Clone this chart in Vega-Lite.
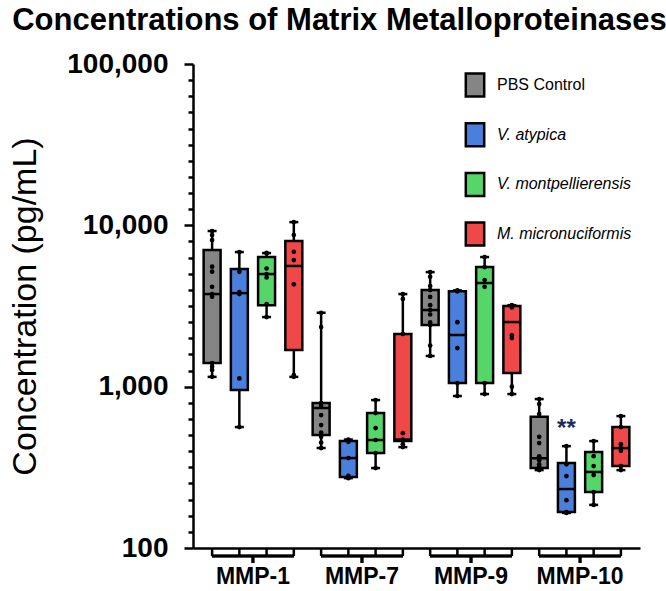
{
  "$schema": "https://vega.github.io/schema/vega-lite/v6.json",
  "autosize": "none",
  "width": 447,
  "height": 484,
  "padding": {"left": 193, "top": 64, "right": 26, "bottom": 43},
  "background": "white",
  "config": {
    "view": {"stroke": null},
    "font": "Liberation Sans"
  },
  "title": {
    "text": "Concentrations of Matrix Metalloproteinases",
    "font": "Liberation Sans",
    "fontSize": 31,
    "fontWeight": "bold",
    "color": "black",
    "anchor": "middle",
    "dx": -77,
    "offset": 13
  },
  "datasets": {
    "stats": [
      {"target": "MMP-1", "group": "PBS Control", "min": 1150, "q1": 1400, "median": 3750, "q3": 7030, "max": 9220},
      {"target": "MMP-1", "group": "V. atypica", "min": 562, "q1": 953, "median": 3800, "q3": 5360, "max": 6830},
      {"target": "MMP-1", "group": "V. montpellierensis", "min": 2700, "q1": 3200, "median": 4990, "q3": 6360, "max": 6730},
      {"target": "MMP-1", "group": "M. micronuciformis", "min": 1150, "q1": 1690, "median": 5600, "q3": 7990, "max": 10470},
      {"target": "MMP-7", "group": "PBS Control", "min": 416, "q1": 501, "median": 737, "q3": 791, "max": 2870},
      {"target": "MMP-7", "group": "V. atypica", "min": 271, "q1": 275, "median": 361, "q3": 460, "max": 470},
      {"target": "MMP-7", "group": "V. montpellierensis", "min": 313, "q1": 388, "median": 467, "q3": 686, "max": 826},
      {"target": "MMP-7", "group": "M. micronuciformis", "min": 422, "q1": 460, "median": 470, "q3": 2120, "max": 3750},
      {"target": "MMP-9", "group": "PBS Control", "min": 1550, "q1": 2410, "median": 2985, "q3": 3970, "max": 5130},
      {"target": "MMP-9", "group": "V. atypica", "min": 875, "q1": 1052, "median": 2090, "q3": 3910, "max": 3950},
      {"target": "MMP-9", "group": "V. montpellierensis", "min": 900, "q1": 1052, "median": 4390, "q3": 5510, "max": 6360},
      {"target": "MMP-9", "group": "M. micronuciformis", "min": 900, "q1": 1214, "median": 2515, "q3": 3160, "max": 3200},
      {"target": "MMP-10", "group": "PBS Control", "min": 304, "q1": 313, "median": 360, "q3": 650, "max": 838},
      {"target": "MMP-10", "group": "V. atypica", "min": 165, "q1": 167, "median": 232, "q3": 336, "max": 428},
      {"target": "MMP-10", "group": "V. montpellierensis", "min": 185, "q1": 222, "median": 296, "q3": 393, "max": 460},
      {"target": "MMP-10", "group": "M. micronuciformis", "min": 304, "q1": 322, "median": 416, "q3": 562, "max": 657}
    ],
    "points": [
      {"target": "MMP-1", "group": "PBS Control", "value": 9220},
      {"target": "MMP-1", "group": "PBS Control", "value": 8700},
      {"target": "MMP-1", "group": "PBS Control", "value": 8100},
      {"target": "MMP-1", "group": "PBS Control", "value": 5540},
      {"target": "MMP-1", "group": "PBS Control", "value": 5160},
      {"target": "MMP-1", "group": "PBS Control", "value": 4160},
      {"target": "MMP-1", "group": "PBS Control", "value": 3750},
      {"target": "MMP-1", "group": "PBS Control", "value": 3610},
      {"target": "MMP-1", "group": "PBS Control", "value": 1400},
      {"target": "MMP-1", "group": "PBS Control", "value": 1330},
      {"target": "MMP-1", "group": "PBS Control", "value": 1270},
      {"target": "MMP-1", "group": "PBS Control", "value": 1150},
      {"target": "MMP-1", "group": "V. atypica", "value": 6830},
      {"target": "MMP-1", "group": "V. atypica", "value": 5150},
      {"target": "MMP-1", "group": "V. atypica", "value": 3850},
      {"target": "MMP-1", "group": "V. atypica", "value": 3750},
      {"target": "MMP-1", "group": "V. atypica", "value": 1125},
      {"target": "MMP-1", "group": "V. atypica", "value": 562},
      {"target": "MMP-1", "group": "V. montpellierensis", "value": 6750},
      {"target": "MMP-1", "group": "V. montpellierensis", "value": 6700},
      {"target": "MMP-1", "group": "V. montpellierensis", "value": 5400},
      {"target": "MMP-1", "group": "V. montpellierensis", "value": 4990},
      {"target": "MMP-1", "group": "V. montpellierensis", "value": 4750},
      {"target": "MMP-1", "group": "V. montpellierensis", "value": 3250},
      {"target": "MMP-1", "group": "V. montpellierensis", "value": 2700},
      {"target": "MMP-1", "group": "M. micronuciformis", "value": 10470},
      {"target": "MMP-1", "group": "M. micronuciformis", "value": 8710},
      {"target": "MMP-1", "group": "M. micronuciformis", "value": 6860},
      {"target": "MMP-1", "group": "M. micronuciformis", "value": 6090},
      {"target": "MMP-1", "group": "M. micronuciformis", "value": 4310},
      {"target": "MMP-1", "group": "M. micronuciformis", "value": 1180},
      {"target": "MMP-1", "group": "M. micronuciformis", "value": 1150},
      {"target": "MMP-7", "group": "PBS Control", "value": 2870},
      {"target": "MMP-7", "group": "PBS Control", "value": 2340},
      {"target": "MMP-7", "group": "PBS Control", "value": 790},
      {"target": "MMP-7", "group": "PBS Control", "value": 760},
      {"target": "MMP-7", "group": "PBS Control", "value": 667},
      {"target": "MMP-7", "group": "PBS Control", "value": 578},
      {"target": "MMP-7", "group": "PBS Control", "value": 520},
      {"target": "MMP-7", "group": "PBS Control", "value": 489},
      {"target": "MMP-7", "group": "PBS Control", "value": 450},
      {"target": "MMP-7", "group": "PBS Control", "value": 416},
      {"target": "MMP-7", "group": "V. atypica", "value": 470},
      {"target": "MMP-7", "group": "V. atypica", "value": 455},
      {"target": "MMP-7", "group": "V. atypica", "value": 361},
      {"target": "MMP-7", "group": "V. atypica", "value": 280},
      {"target": "MMP-7", "group": "V. atypica", "value": 271},
      {"target": "MMP-7", "group": "V. montpellierensis", "value": 826},
      {"target": "MMP-7", "group": "V. montpellierensis", "value": 686},
      {"target": "MMP-7", "group": "V. montpellierensis", "value": 554},
      {"target": "MMP-7", "group": "V. montpellierensis", "value": 467},
      {"target": "MMP-7", "group": "V. montpellierensis", "value": 388},
      {"target": "MMP-7", "group": "V. montpellierensis", "value": 313},
      {"target": "MMP-7", "group": "M. micronuciformis", "value": 3750},
      {"target": "MMP-7", "group": "M. micronuciformis", "value": 3500},
      {"target": "MMP-7", "group": "M. micronuciformis", "value": 2120},
      {"target": "MMP-7", "group": "M. micronuciformis", "value": 515},
      {"target": "MMP-7", "group": "M. micronuciformis", "value": 470},
      {"target": "MMP-7", "group": "M. micronuciformis", "value": 440},
      {"target": "MMP-7", "group": "M. micronuciformis", "value": 422},
      {"target": "MMP-9", "group": "PBS Control", "value": 5130},
      {"target": "MMP-9", "group": "PBS Control", "value": 4800},
      {"target": "MMP-9", "group": "PBS Control", "value": 4200},
      {"target": "MMP-9", "group": "PBS Control", "value": 3970},
      {"target": "MMP-9", "group": "PBS Control", "value": 3600},
      {"target": "MMP-9", "group": "PBS Control", "value": 3200},
      {"target": "MMP-9", "group": "PBS Control", "value": 2985},
      {"target": "MMP-9", "group": "PBS Control", "value": 2800},
      {"target": "MMP-9", "group": "PBS Control", "value": 2500},
      {"target": "MMP-9", "group": "PBS Control", "value": 2410},
      {"target": "MMP-9", "group": "PBS Control", "value": 1800},
      {"target": "MMP-9", "group": "PBS Control", "value": 1550},
      {"target": "MMP-9", "group": "V. atypica", "value": 3950},
      {"target": "MMP-9", "group": "V. atypica", "value": 3900},
      {"target": "MMP-9", "group": "V. atypica", "value": 2510},
      {"target": "MMP-9", "group": "V. atypica", "value": 1735},
      {"target": "MMP-9", "group": "V. atypica", "value": 1052},
      {"target": "MMP-9", "group": "V. atypica", "value": 875},
      {"target": "MMP-9", "group": "V. montpellierensis", "value": 6360},
      {"target": "MMP-9", "group": "V. montpellierensis", "value": 5510},
      {"target": "MMP-9", "group": "V. montpellierensis", "value": 4580},
      {"target": "MMP-9", "group": "V. montpellierensis", "value": 4160},
      {"target": "MMP-9", "group": "V. montpellierensis", "value": 1052},
      {"target": "MMP-9", "group": "V. montpellierensis", "value": 900},
      {"target": "MMP-9", "group": "M. micronuciformis", "value": 3200},
      {"target": "MMP-9", "group": "M. micronuciformis", "value": 3160},
      {"target": "MMP-9", "group": "M. micronuciformis", "value": 3100},
      {"target": "MMP-9", "group": "M. micronuciformis", "value": 2080},
      {"target": "MMP-9", "group": "M. micronuciformis", "value": 2000},
      {"target": "MMP-9", "group": "M. micronuciformis", "value": 1000},
      {"target": "MMP-9", "group": "M. micronuciformis", "value": 900},
      {"target": "MMP-10", "group": "PBS Control", "value": 838},
      {"target": "MMP-10", "group": "PBS Control", "value": 780},
      {"target": "MMP-10", "group": "PBS Control", "value": 676},
      {"target": "MMP-10", "group": "PBS Control", "value": 489},
      {"target": "MMP-10", "group": "PBS Control", "value": 447},
      {"target": "MMP-10", "group": "PBS Control", "value": 370},
      {"target": "MMP-10", "group": "PBS Control", "value": 350},
      {"target": "MMP-10", "group": "PBS Control", "value": 330},
      {"target": "MMP-10", "group": "PBS Control", "value": 320},
      {"target": "MMP-10", "group": "PBS Control", "value": 313},
      {"target": "MMP-10", "group": "PBS Control", "value": 304},
      {"target": "MMP-10", "group": "V. atypica", "value": 428},
      {"target": "MMP-10", "group": "V. atypica", "value": 330},
      {"target": "MMP-10", "group": "V. atypica", "value": 279},
      {"target": "MMP-10", "group": "V. atypica", "value": 198},
      {"target": "MMP-10", "group": "V. atypica", "value": 167},
      {"target": "MMP-10", "group": "V. atypica", "value": 165},
      {"target": "MMP-10", "group": "V. montpellierensis", "value": 460},
      {"target": "MMP-10", "group": "V. montpellierensis", "value": 371},
      {"target": "MMP-10", "group": "V. montpellierensis", "value": 322},
      {"target": "MMP-10", "group": "V. montpellierensis", "value": 283},
      {"target": "MMP-10", "group": "V. montpellierensis", "value": 222},
      {"target": "MMP-10", "group": "V. montpellierensis", "value": 185},
      {"target": "MMP-10", "group": "M. micronuciformis", "value": 657},
      {"target": "MMP-10", "group": "M. micronuciformis", "value": 562},
      {"target": "MMP-10", "group": "M. micronuciformis", "value": 440},
      {"target": "MMP-10", "group": "M. micronuciformis", "value": 416},
      {"target": "MMP-10", "group": "M. micronuciformis", "value": 400},
      {"target": "MMP-10", "group": "M. micronuciformis", "value": 322},
      {"target": "MMP-10", "group": "M. micronuciformis", "value": 304}
    ],
    "annot": [
      {"target": "MMP-10", "group": "V. atypica", "label": "**", "value": 586}
    ]
  },
  "encoding": {
    "x": {
      "field": "target",
      "type": "nominal",
      "sort": ["MMP-1", "MMP-7", "MMP-9", "MMP-10"],
      "scale": {"domain": ["MMP-1", "MMP-7", "MMP-9", "MMP-10"], "paddingInner": 0, "paddingOuter": 0.05},
      "axis": {
        "title": null,
        "labelAngle": 0,
        "labelFont": "Liberation Sans",
        "labelFontSize": 23,
        "labelFontWeight": "bold",
        "labelColor": "black",
        "labelPadding": 17,
        "ticks": false,
        "tickSize": 0,
        "domainColor": "black",
        "domainWidth": 2.5,
        "grid": false
      }
    },
    "xOffset": {
      "field": "group",
      "type": "nominal",
      "sort": ["PBS Control", "V. atypica", "V. montpellierensis", "M. micronuciformis"],
      "scale": {"domain": ["PBS Control", "V. atypica", "V. montpellierensis", "M. micronuciformis"], "paddingInner": 0.377, "paddingOuter": 0.19}
    }
  },
  "layer": [
    {
      "data": {"name": "stats"},
      "mark": {"type": "rule", "color": "black", "strokeWidth": 2.5},
      "encoding": {
        "y": {
          "field": "min",
          "type": "quantitative",
          "scale": {"type": "log", "domain": [100, 100000], "nice": false},
          "axis": {
            "title": "Concentration (pg/mL)",
            "titleFont": "Liberation Sans",
            "titleFontSize": 34,
            "titleFontWeight": "normal",
            "titleColor": "black",
            "titlePadding": 24,
            "values": [100, 125.89, 158.49, 199.53, 251.19, 316.23, 398.11, 501.19, 630.96, 794.33, 1000, 1258.9, 1584.9, 1995.3, 2511.9, 3162.3, 3981.1, 5011.9, 6309.6, 7943.3, 10000, 12589, 15849, 19953, 25119, 31623, 39811, 50119, 63096, 79433, 100000],
            "labelExpr": "(datum.value == 100 || datum.value == 1000 || datum.value == 10000 || datum.value == 100000) ? format(datum.value, ',') : ''",
            "labelFont": "Liberation Sans",
            "labelFontSize": 28,
            "labelFontWeight": "bold",
            "labelColor": "black",
            "labelPadding": 16,
            "labelOverlap": false,
            "labelFlush": false,
            "tickSize": {"condition": {"test": "datum.value == 100 || datum.value == 1000 || datum.value == 10000 || datum.value == 100000", "value": 9}, "value": 5},
            "tickWidth": 2.5,
            "tickColor": "black",
            "domainColor": "black",
            "domainWidth": 2.5,
            "grid": false
          }
        },
        "y2": {"field": "max"}
      }
    },
    {
      "data": {"name": "stats"},
      "mark": {"type": "bar", "stroke": "black", "strokeWidth": 2.5, "opacity": 1},
      "encoding": {
        "y": {"field": "q1", "type": "quantitative"},
        "y2": {"field": "q3"},
        "color": {
          "field": "group",
          "type": "nominal",
          "scale": {
            "domain": ["PBS Control", "V. atypica", "V. montpellierensis", "M. micronuciformis"],
            "range": ["#858585", "#4a7fdc", "#55d668", "#f04848"]
          },
          "legend": {
            "title": null,
            "orient": "none",
            "legendX": 269,
            "legendY": 8,
            "padding": 0,
            "symbolType": "M-0.8,-1H0.8V1H-0.8Z",
            "symbolSize": 529,
            "symbolStrokeColor": "black",
            "symbolStrokeWidth": 2.5,
            "symbolOpacity": 1,
            "rowPadding": 15.7,
            "labelOffset": 9,
            "labelFont": "Liberation Sans",
            "labelFontSize": 16,
            "labelColor": "black",
            "labelFontStyle": {"expr": "datum.label == 'PBS Control' ? 'normal' : 'italic'"},
            "labelLimit": 300
          }
        }
      }
    },
    {
      "data": {"name": "stats"},
      "mark": {"type": "tick", "color": "black", "thickness": 2.5, "size": 18, "opacity": 1},
      "encoding": {"y": {"field": "median", "type": "quantitative"}}
    },
    {
      "data": {"name": "stats"},
      "mark": {"type": "tick", "color": "black", "thickness": 2.5, "size": 9, "opacity": 1},
      "encoding": {"y": {"field": "min", "type": "quantitative"}}
    },
    {
      "data": {"name": "stats"},
      "mark": {"type": "tick", "color": "black", "thickness": 2.5, "size": 9, "opacity": 1},
      "encoding": {"y": {"field": "max", "type": "quantitative"}}
    },
    {
      "data": {"name": "points"},
      "mark": {"type": "circle", "color": "black", "size": 22, "opacity": 1},
      "encoding": {"y": {"field": "value", "type": "quantitative"}}
    },
    {
      "data": {"name": "annot"},
      "mark": {"type": "text", "color": "#1c2b5e", "fontSize": 24, "fontWeight": "bold", "font": "Liberation Sans", "baseline": "middle", "dy": 5},
      "encoding": {
        "y": {"field": "value", "type": "quantitative"},
        "text": {"field": "label"}
      }
    },
    {
      "data": {"name": "stats"},
      "mark": {"type": "rule", "color": "black", "strokeWidth": 2.5, "clip": false},
      "encoding": {
        "y": {"datum": 100, "type": "quantitative"},
        "y2": {"datum": 89.2}
      }
    },
    {
      "data": {"name": "stats"},
      "mark": {"type": "tick", "color": "black", "thickness": 2.5, "size": 82, "opacity": 1, "clip": false},
      "encoding": {
        "xOffset": null,
        "y": {"datum": 89.2, "type": "quantitative"}
      }
    },
    {
      "data": {"name": "stats"},
      "mark": {"type": "rule", "color": "black", "strokeWidth": 2.5, "clip": false},
      "encoding": {
        "xOffset": null,
        "y": {"datum": 89.2, "type": "quantitative"},
        "y2": {"datum": 80.7}
      }
    }
  ]
}
